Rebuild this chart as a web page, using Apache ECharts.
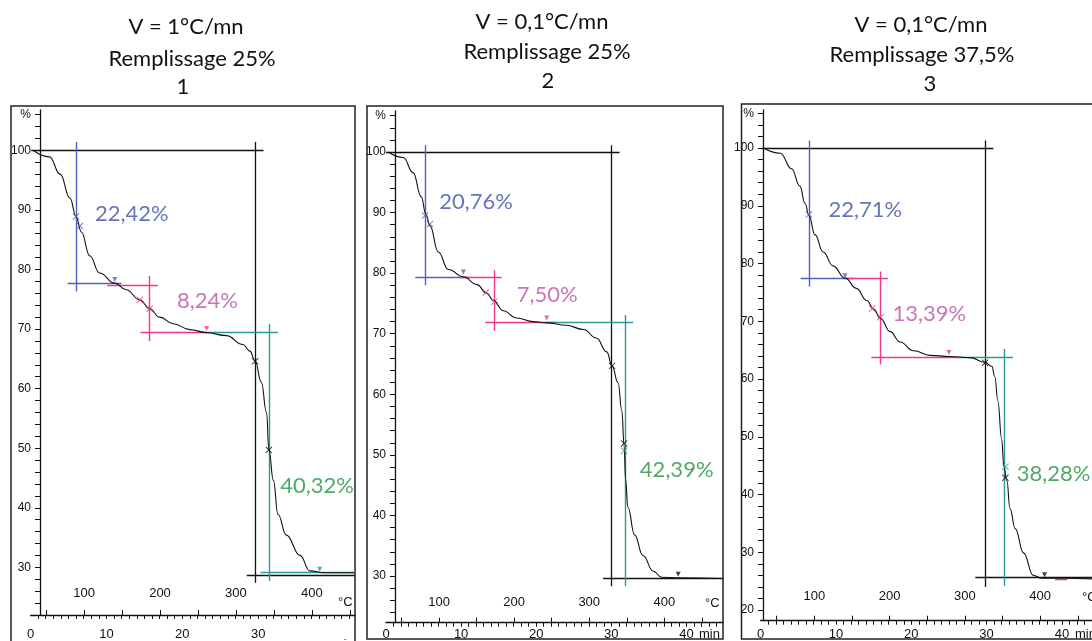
<!DOCTYPE html>
<html>
<head>
<meta charset="utf-8">
<script src="https://cdn.jsdelivr.net/npm/echarts@6/dist/echarts.min.js"></script>
<style>html,body{margin:0;padding:0;background:#fff}#c{width:1092px;height:641px}</style>
</head>
<body>
<div id="c"></div>
<script>
// ---------- data (time in min, mass in %) ----------
const titles1 = ['V = 1°C/mn', 'Remplissage 25%', '1'];
const titles2 = ['V = 0,1°C/mn', 'Remplissage 25%', '2'];
const titles3 = ['V = 0,1°C/mn', 'Remplissage 37,5%', '3'];

const minuteLabels = [0, 10, 20, 30];
const minuteLabels2 = [0, 10, 20, 30, 40];
const tempLabels = [100, 200, 300, 400];
const pctLabels = [30, 40, 50, 60, 70, 80, 90, 100];
const pctLabels3 = [20, 30, 40, 50, 60, 70, 80, 90, 100];

const curve1T = [0.35, 2.5, 3.9, 5.2, 6.0, 6.7, 7.8, 9.1, 11.1, 12.6, 14.4, 15.7, 17.0, 18.8, 21.0, 23.2, 25.8, 28.0, 28.9, 29.6, 30.4, 31.1, 31.4, 32.0, 32.6, 33.7, 35.5, 36.8, 38.6, 42.7];
const curve1P = [100, 98.9, 96, 92, 88.9, 86.3, 82.3, 79.4, 77.7, 76.6, 74.9, 73.4, 72, 70.9, 69.9, 69.4, 68.9, 67.4, 66.3, 64.6, 61.1, 56, 49.7, 44.6, 38.9, 35.4, 32, 29.4, 29.1, 29.1];

const curve2T = [0.3, 2.3, 3.6, 4.7, 5.3, 5.85, 6.96, 8.3, 10.3, 12.1, 13.4, 14.3, 15.6, 17.4, 19.6, 21.4, 24.0, 26.3, 28.0, 29.4, 30.1, 30.9, 31.4, 31.7, 31.9, 32.2, 33.1, 34.2, 35.6, 36.7, 39.1, 44.8];
const curve2P = [100, 99.1, 96.6, 92.6, 89.8, 87.8, 83.5, 80.6, 79.4, 78.1, 76.7, 75.5, 73.8, 72.6, 72.0, 71.8, 71.4, 70.7, 69.3, 67, 64.7, 61.9, 57.3, 51.6, 45.9, 41.4, 36.8, 33.4, 30.8, 29.8, 29.7, 29.6];

const curve3T = [0.35, 2.6, 4.1, 5.2, 5.9, 6.4, 7.2, 8.3, 9.6, 11.2, 12.7, 14.1, 15.0, 15.9, 17.2, 18.5, 20.3, 22.5, 25.1, 27.8, 29.8, 30.7, 31.1, 31.5, 32.0, 32.3, 32.7, 33.1, 33.8, 34.9, 36.2, 37.3, 40.2, 44.0];
const curve3P = [100, 99.1, 96.4, 93.4, 90.4, 88.3, 85.0, 82.0, 79.6, 77.5, 75.7, 73.6, 72.1, 70.5, 68.2, 66.4, 64.9, 64.1, 63.9, 63.7, 62.9, 62.2, 60.4, 56.2, 49.6, 44.8, 42.4, 37.6, 34.1, 29.9, 26, 25.5, 25.5, 25.4];

// construction segments [t1, p1, t2, p2]
const black1 = [[0.1, 100, 30.7, 100], [29.6, 101.4, 29.6, 27.4], [28.5, 28.7, 42.75, 28.7]];
const blue1 = [[6.0, 101.4, 6.0, 76.3], [4.9, 77.7, 12.0, 77.7]];
const pink1 = [[10.1, 77.4, 16.8, 77.4], [15.7, 78.9, 15.7, 68], [14.5, 69.4, 23.4, 69.4]];
const teal1 = [[23.4, 69.4, 32.6, 69.4], [31.4, 70.9, 31.4, 27.7], [30.3, 29.1, 42.75, 29.1]];

const black2 = [[0, 100, 31.1, 100], [30.0, 101.1, 30.0, 28.3], [28.9, 29.7, 44.87, 29.7]];
const blue2 = [[5.2, 101.1, 5.2, 78.0], [3.9, 79.3, 11.2, 79.3]];
const pink2 = [[9.8, 79.3, 15.4, 79.3], [14.4, 80.5, 14.4, 70.5], [13.2, 71.9, 22.7, 71.9]];
const teal2 = [[21.2, 71.9, 32.9, 71.9], [31.8, 73.1, 31.8, 28.3]];

const black3 = [[0.1, 100, 30.9, 100], [29.8, 101.3, 29.8, 24.0], [28.5, 25.7, 44, 25.7]];
const blue3 = [[6.4, 101.3, 6.4, 76.0], [5.3, 77.4, 12.3, 77.4]];
const pink3 = [[11.2, 77.4, 16.9, 77.4], [15.9, 78.6, 15.9, 62.5], [14.7, 63.8, 26.5, 63.8], [39.1, 25.4, 40.7, 25.4]];
const teal3 = [[26.5, 63.8, 33.5, 63.8], [32.4, 65.2, 32.4, 24.2]];

// x markers
const cross1 = {blue: [[6.0, 88.9], [6.5, 87.3]], pink: [[14.4, 74.9], [15.7, 73.4]], black: [[29.6, 64.6], [31.4, 49.7]], teal: []};
const cross2 = {blue: [[5.2, 89.5], [5.85, 88.1]], pink: [[13.3, 76.8], [14.4, 75.3]], black: [[30.1, 64.7], [31.7, 51.9]], teal: [[31.7, 50.7]]};
const cross3 = {blue: [[6.4, 88.5]], pink: [[14.8, 72.2], [15.9, 70.7]], black: [[29.8, 62.8], [32.5, 42.9]], teal: [[32.5, 44.8]]};
// small arrow markers
const arrow1 = {blue: [[11.1, 78.3]], pink: [[23.2, 70.1]], teal: [[38.1, 29.7]]};
const arrow2 = {blue: [[10.3, 80.2]], pink: [[21.4, 72.6]], black: [[38.9, 30.3]]};
const arrow3 = {blue: [[11.2, 77.9]], pink: [[25.0, 64.6]], black: [[37.7, 26.1]]};

// percentage labels [t, p, text]
const labels1 = [[8.5, 89.4, '22,42%'], [19.3, 74.7, '8,24%'], [32.9, 43.6, '40,32%']];
const labels2 = [[7.1, 91.7, '20,76%'], [17.4, 76.4, '7,50%'], [33.8, 47.6, '42,39%']];
const labels3 = [[9.0, 89.3, '22,71%'], [17.5, 71.2, '13,39%'], [34.0, 43.5, '38,28%']];

// ---------- layout ----------
const C = {black: '#111', blue: '#5163b8', pink: '#ee3a8c', teal: '#2a9a98'};
const TXT = ['#3f52a8', '#bb52a2', '#22943f'];
const AX = '#111';
const FONT = 'Liberation Sans';

const panels = [
  {grid: {left: 30.5, right: 737, top: 109.8, bottom: 17.7}, xmax: 42.75, ymin: 22.0, ymax: 106.8, yoff: -9.5, minMargin: 13, tMargin: 15, T0: 29.4,
   curveT: curve1T, curveP: curve1P, segs: [black1, blue1, pink1, teal1], cross: cross1, arrow: arrow1, labels: labels1, mins: minuteLabels, pcts: pctLabels, tickFrom: 24},
  {grid: {left: 386, right: 369, top: 110.8, bottom: 18.3}, xmax: 44.87, ymin: 22.3, ymax: 106.8, yoff: -9, minMargin: 5, tMargin: 13.5, T0: 29.4,
   curveT: curve2T, curveP: curve2P, segs: [black2, blue2, pink2, teal2], cross: cross2, arrow: arrow2, labels: labels2, mins: minuteLabels2, pcts: pctLabels, tickFrom: 24},
  {grid: {left: 760.7, right: 0, top: 109.9, bottom: 20.3}, xmax: 44.0, ymin: 18.15, ymax: 106.6, yoff: -2.3, minMargin: 7, tMargin: 17.5, T0: 28.8,
   curveT: curve3T, curveP: curve3P, segs: [black3, blue3, pink3, teal3], cross: cross3, arrow: arrow3, labels: labels3, mins: minuteLabels2, pcts: pctLabels3, tickFrom: 20}
];

const grids = [], xAxes = [], yAxes = [], series = [];
const crossPath = 'path://M0,1L1,0L5,4L9,0L10,1L6,5L10,9L9,10L5,6L1,10L0,9L4,5Z';
const colorKeys = ['black', 'blue', 'pink', 'teal'];

panels.forEach((p, i) => {
  grids.push(p.grid);
  const minTicks = [];
  for (let v = 1; v <= Math.floor(p.xmax); v++) minTicks.push(v);
  const tTicks = [];
  for (let v = 50; v <= p.T0 + 10 * p.xmax; v += 50) tTicks.push(v);
  const pTicks = [];
  for (let v = p.tickFrom; v <= 106; v += 2) pTicks.push(v);
  xAxes.push({
    gridIndex: i, type: 'value', min: 0, max: p.xmax,
    axisLine: {show: true, onZero: false, lineStyle: {color: AX, width: 1.3}},
    axisTick: {show: true, customValues: minTicks, length: 4, lineStyle: {color: AX}},
    axisLabel: {customValues: p.mins, margin: p.minMargin, fontSize: 13, color: AX, fontFamily: FONT, showMinLabel: true, showMaxLabel: true},
    splitLine: {show: false}
  });
  xAxes.push({
    gridIndex: i, type: 'value', position: 'bottom', min: p.T0, max: p.T0 + 10 * p.xmax,
    axisLine: {show: false, onZero: false},
    axisTick: {show: true, inside: true, customValues: tTicks, length: 5, lineStyle: {color: AX}},
    axisLabel: {inside: true, customValues: tempLabels, margin: p.tMargin, fontSize: 13, color: AX, fontFamily: FONT},
    splitLine: {show: false}
  });
  yAxes.push({
    gridIndex: i, type: 'value', min: p.ymin, max: p.ymax, offset: p.yoff,
    axisLine: {show: true, onZero: false, lineStyle: {color: AX, width: 1.3}},
    axisTick: {show: true, customValues: pTicks, length: 5, lineStyle: {color: AX}},
    axisLabel: {customValues: p.pcts.concat([106]), margin: 9, fontSize: 12, color: AX, fontFamily: FONT,
      formatter: v => (v >= 105 ? '%' : String(v))},
    splitLine: {show: false}
  });
  series.push({
    type: 'line', xAxisIndex: 2 * i, yAxisIndex: i, showSymbol: false, smooth: 0.45, smoothMonotone: 'x',
    lineStyle: {color: '#111', width: 1.1}, data: p.curveT.map((t, k) => [t, p.curveP[k]]), z: 3
  });
  p.segs.forEach((segList, k) => {
    series.push({
      type: 'lines', coordinateSystem: 'cartesian2d', xAxisIndex: 2 * i, yAxisIndex: i,
      lineStyle: {color: C[colorKeys[k]], width: k === 0 ? 1.3 : 1.4, opacity: 1},
      data: segList.map(s => ({coords: [[s[0], s[1]], [s[2], s[3]]]})), z: 2, silent: true
    });
  });
  Object.keys(p.cross).forEach(key => {
    series.push({type: 'scatter', xAxisIndex: 2 * i, yAxisIndex: i, symbol: crossPath, symbolSize: 7,
      itemStyle: {color: C[key]}, data: p.cross[key], z: 4});
  });
  Object.keys(p.arrow).forEach(key => {
    series.push({type: 'scatter', xAxisIndex: 2 * i, yAxisIndex: i, symbol: 'triangle', symbolRotate: 180, symbolSize: 5,
      itemStyle: {color: C[key]}, data: p.arrow[key], z: 4});
  });
  series.push({
    type: 'scatter', xAxisIndex: 2 * i, yAxisIndex: i, symbolSize: 0, z: 5,
    data: p.labels.map((l, k) => ({value: [l[0], l[1]], label: {color: TXT[k]}, name: l[2]})),
    label: {show: true, position: 'right', distance: 0, formatter: d => d.name, fontSize: 22, fontFamily: 'Lato', align: 'left', verticalAlign: 'middle'}
  });
});

// ---------- decorations: frames, titles, unit texts ----------
const frames = [[11, 106, 344, 560], [367, 106, 356, 533], [741.5, 104, 400, 535]];
const titleX = [[186, 192, 183], [542, 547, 548], [921, 922, 930]];
const titleY = [[27, 59, 87], [22, 52, 81], [25, 55, 84]];
const titleTexts = [titles1, titles2, titles3];
const unitTexts = [['°C', 338, 602], ['min', 333, 644], ['°C', 705, 603], ['min', 699, 634], ['°C', 1082, 597], ['min', 1075, 634]];

const graphic = [];
frames.forEach(f => graphic.push({type: 'rect', shape: {x: f[0], y: f[1], width: f[2], height: f[3]},
  style: {fill: 'none', stroke: '#222', lineWidth: 1.5}, z: 0, silent: true}));
titleTexts.forEach((tt, i) => tt.forEach((t, k) => graphic.push({type: 'text', x: titleX[i][k], y: titleY[i][k],
  style: {text: t, align: 'center', verticalAlign: 'middle', fontSize: 22, fontFamily: 'Lato', fill: '#111'}, z: 10})));
unitTexts.forEach(u => graphic.push({type: 'text', x: u[1], y: u[2],
  style: {text: u[0], align: 'left', verticalAlign: 'middle', fontSize: 13, fontFamily: FONT, fill: AX}, z: 10}));

const chart = echarts.init(document.getElementById('c'), null, {renderer: 'canvas'});
chart.setOption({
  animation: false,
  backgroundColor: '#fff',
  grid: grids, xAxis: xAxes, yAxis: yAxes, series: series, graphic: graphic
});
</script>
</body>
</html>
